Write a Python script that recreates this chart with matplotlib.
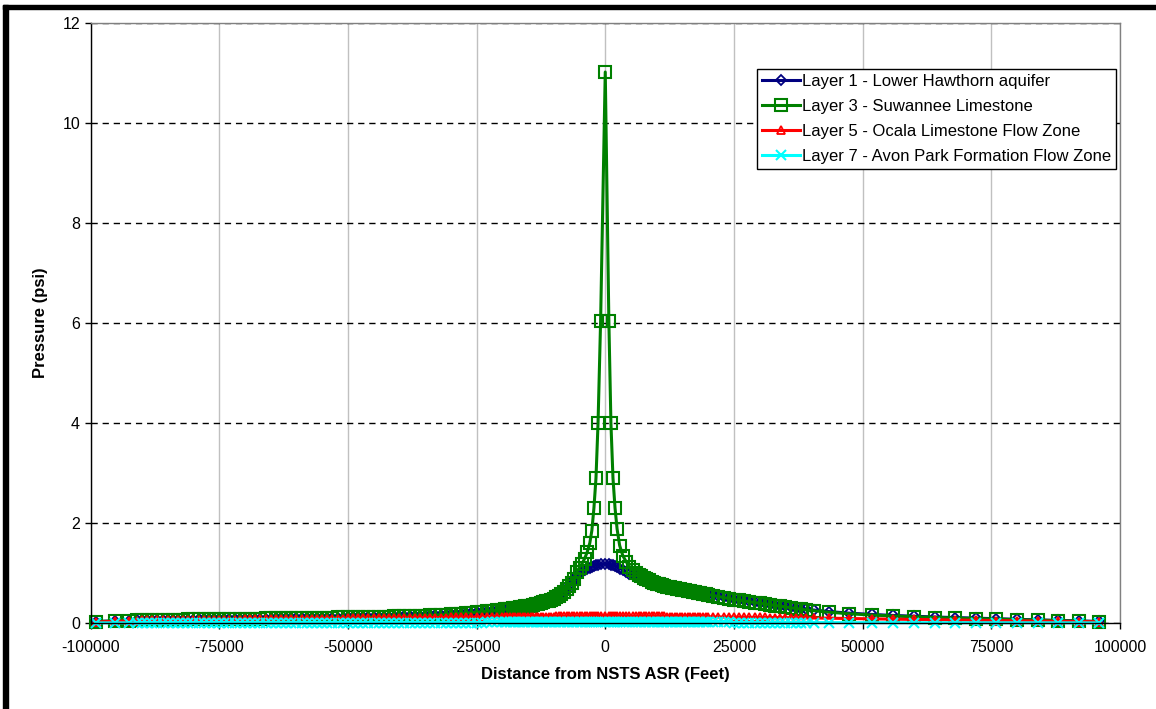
import matplotlib
matplotlib.use("Agg")
import matplotlib.pyplot as plt
from matplotlib.patches import Rectangle

plt.rcParams['font.family'] = ['Liberation Sans', 'DejaVu Sans']

# distance from the well (ft), model cell centres
dist_ft = [
    -99000, -95300, -92600,
    -91000, -90000, -89000, -88000, -87000, -86000, -85000, -84000, -83000, -82000,
    -81000, -80000, -79000, -78000, -77000, -76000, -75000, -74000, -73000, -72000,
    -71000, -70000, -69000, -68000, -67000, -66000, -65000, -64000, -63000, -62000,
    -61000, -60000, -59000, -58000, -57000, -56000, -55000, -54000, -53000, -52000,
    -51000, -50000, -49000, -48000, -47000, -46000, -45000, -44000, -43000, -42000,
    -41000, -40000, -39000, -38000, -37000, -36000,
    -35000, -34000, -33000, -32000, -31000, -30000, -29000, -28000, -27000, -26000,
    -25000, -24000, -23000, -22000, -21000,
    -20000, -19500, -19000, -18500, -18000, -17500, -17000, -16500, -16000, -15500,
    -15000, -14500, -14000, -13500, -13000, -12500, -12000, -11500, -11000, -10500,
    -10000, -9500, -9000, -8500, -8000, -7500, -7000, -6500, -6000,
    -5500, -5000, -4500, -4000, -3500, -3000, -2600, -2200, -1800, -1400, -900,
    0,
    700, 1100, 1500, 1900, 2300, 2800, 3400, 4100, 4700, 5300, 6000,
    6500, 7000, 7500, 8000, 8500, 9000, 9500, 10000, 10500, 11000, 11500, 12000,
    12500, 13000, 13500, 14000, 14500, 15000, 15500, 16000, 16500, 17000, 17500,
    18000, 18500, 19000, 19500, 20000,
    21000, 22000, 23000, 24000, 25000, 26000, 27000, 28000, 29000, 30000,
    31000, 32000, 33000, 34000, 35000, 36000, 37000, 38000, 39000,
    40600, 43500, 47400, 51800, 55900, 60000, 64000, 68000, 72000, 76000, 80000,
    84000, 88000, 92000, 96000,
]

layer1 = [
    0.030, 0.040, 0.048,
    0.055, 0.057, 0.058, 0.059, 0.061, 0.062, 0.063, 0.064, 0.066, 0.067,
    0.068, 0.069, 0.071, 0.072, 0.073, 0.074, 0.076, 0.077, 0.078, 0.080,
    0.081, 0.082, 0.084, 0.085, 0.086, 0.088, 0.089, 0.091, 0.092, 0.093,
    0.095, 0.096, 0.098, 0.099, 0.101, 0.102, 0.104, 0.105, 0.107, 0.108,
    0.110, 0.112, 0.113, 0.115, 0.117, 0.119, 0.121, 0.123, 0.125, 0.127,
    0.129, 0.131, 0.133, 0.135, 0.138, 0.140,
    0.147, 0.151, 0.156, 0.161, 0.167, 0.173, 0.180, 0.187, 0.195, 0.203,
    0.212, 0.222, 0.232, 0.242, 0.253,
    0.264, 0.270, 0.276, 0.282, 0.289, 0.296, 0.303, 0.311, 0.319, 0.328,
    0.337, 0.347, 0.357, 0.369, 0.382, 0.396, 0.412, 0.429, 0.447, 0.466,
    0.487, 0.514, 0.545, 0.583, 0.625, 0.675, 0.735, 0.800, 0.875,
    0.96, 1.00, 1.03, 1.06, 1.09, 1.11, 1.13, 1.15, 1.16, 1.17, 1.18,
    1.19,
    1.18, 1.17, 1.16, 1.14, 1.12, 1.09, 1.06, 1.02, 0.99, 0.96, 0.94,
    0.93, 0.92, 0.905, 0.89, 0.867, 0.845, 0.825, 0.805, 0.79, 0.775, 0.76, 0.745,
    0.735, 0.725, 0.715, 0.705, 0.695, 0.685, 0.675, 0.665, 0.655, 0.645, 0.635,
    0.625, 0.615, 0.605, 0.595, 0.585,
    0.565, 0.545, 0.525, 0.505, 0.485, 0.47, 0.455, 0.44, 0.425, 0.41,
    0.395, 0.38, 0.365, 0.35, 0.335, 0.32, 0.305, 0.29, 0.276,
    0.258, 0.228, 0.197, 0.171, 0.151, 0.135, 0.12, 0.108, 0.096, 0.085, 0.073,
    0.062, 0.052, 0.041, 0.031,
]

layer3 = [
    0.030, 0.040, 0.050,
    0.058, 0.060, 0.061, 0.062, 0.064, 0.065, 0.066, 0.067, 0.069, 0.070,
    0.071, 0.072, 0.074, 0.075, 0.076, 0.077, 0.079, 0.080, 0.081, 0.083,
    0.084, 0.085, 0.087, 0.088, 0.089, 0.091, 0.092, 0.094, 0.095, 0.096,
    0.098, 0.099, 0.101, 0.102, 0.104, 0.105, 0.107, 0.108, 0.110, 0.111,
    0.113, 0.115, 0.116, 0.118, 0.120, 0.122, 0.124, 0.126, 0.128, 0.130,
    0.132, 0.134, 0.136, 0.138, 0.141, 0.143,
    0.150, 0.154, 0.159, 0.164, 0.170, 0.176, 0.183, 0.190, 0.198, 0.206,
    0.215, 0.225, 0.235, 0.245, 0.256,
    0.267, 0.273, 0.279, 0.285, 0.292, 0.299, 0.306, 0.314, 0.322, 0.331,
    0.340, 0.350, 0.360, 0.372, 0.385, 0.400, 0.415, 0.432, 0.450, 0.470,
    0.490, 0.518, 0.550, 0.588, 0.630, 0.680, 0.740, 0.805, 0.880,
    1.03, 1.11, 1.19, 1.29, 1.42, 1.60, 1.85, 2.30, 2.90, 4.00, 6.05,
    11.02,
    6.05, 4.00, 2.90, 2.30, 1.88, 1.55, 1.35, 1.22, 1.13, 1.06, 1.00,
    0.97, 0.94, 0.91, 0.88, 0.855, 0.83, 0.81, 0.79, 0.775, 0.76, 0.745, 0.73,
    0.72, 0.71, 0.70, 0.69, 0.68, 0.67, 0.66, 0.65, 0.64, 0.63, 0.62,
    0.61, 0.60, 0.59, 0.58, 0.57,
    0.55, 0.53, 0.51, 0.49, 0.47, 0.455, 0.44, 0.425, 0.41, 0.395,
    0.38, 0.365, 0.35, 0.335, 0.32, 0.305, 0.29, 0.276, 0.262,
    0.245, 0.215, 0.185, 0.16, 0.14, 0.125, 0.11, 0.10, 0.088, 0.077, 0.066,
    0.056, 0.046, 0.036, 0.026,
]

layer5 = [
    0.020, 0.035, 0.045,
    0.050, 0.051, 0.052, 0.053, 0.054, 0.055, 0.056, 0.057, 0.058, 0.059,
    0.060, 0.061, 0.062, 0.063, 0.064, 0.065, 0.066, 0.067, 0.068, 0.069,
    0.070, 0.071, 0.072, 0.073, 0.074, 0.075, 0.076, 0.077, 0.078, 0.079,
    0.080, 0.081, 0.082, 0.083, 0.084, 0.085, 0.086, 0.087, 0.088, 0.089,
    0.090, 0.091, 0.092, 0.093, 0.094, 0.095, 0.096, 0.097, 0.098, 0.099,
    0.100, 0.101, 0.102, 0.103, 0.104, 0.105,
    0.106, 0.107, 0.108, 0.109, 0.110, 0.111, 0.112, 0.113, 0.114, 0.115,
    0.116, 0.117, 0.118, 0.119, 0.119,
    0.120, 0.121, 0.121, 0.122, 0.122, 0.123, 0.123, 0.124, 0.124, 0.125,
    0.125, 0.126, 0.126, 0.127, 0.127, 0.128, 0.128, 0.129, 0.129, 0.130,
    0.130, 0.131, 0.131, 0.132, 0.132, 0.133, 0.133, 0.134, 0.135,
    0.136, 0.137, 0.138, 0.139, 0.140, 0.141, 0.142, 0.143, 0.144, 0.145, 0.146,
    0.147,
    0.146, 0.145, 0.144, 0.143, 0.142, 0.141, 0.140, 0.139, 0.138, 0.137, 0.136,
    0.136, 0.135, 0.135, 0.134, 0.134, 0.133, 0.133, 0.132, 0.132, 0.131, 0.131, 0.130,
    0.130, 0.129, 0.129, 0.128, 0.128, 0.127, 0.127, 0.126, 0.126, 0.125, 0.125,
    0.124, 0.124, 0.123, 0.123, 0.122,
    0.121, 0.120, 0.119, 0.118, 0.117, 0.116, 0.115, 0.114, 0.113, 0.112,
    0.111, 0.110, 0.109, 0.108, 0.107, 0.106, 0.105, 0.104, 0.103,
    0.100, 0.096, 0.090, 0.083, 0.077, 0.071, 0.065, 0.059, 0.054, 0.049, 0.044,
    0.039, 0.034, 0.029, 0.025,
]

layer7 = [
    0.002, 0.003, 0.004,
    0.004, 0.004, 0.004, 0.004, 0.004, 0.004, 0.004, 0.004, 0.005, 0.005,
    0.005, 0.005, 0.005, 0.005, 0.005, 0.005, 0.005, 0.005, 0.005, 0.005,
    0.005, 0.005, 0.005, 0.005, 0.006, 0.006, 0.006, 0.006, 0.006, 0.006,
    0.006, 0.006, 0.006, 0.006, 0.006, 0.006, 0.006, 0.006, 0.007, 0.007,
    0.007, 0.007, 0.007, 0.007, 0.007, 0.007, 0.007, 0.007, 0.007, 0.007,
    0.008, 0.008, 0.008, 0.008, 0.008, 0.008,
    0.008, 0.008, 0.009, 0.009, 0.009, 0.009, 0.009, 0.010, 0.010, 0.010,
    0.010, 0.010, 0.011, 0.011, 0.011,
    0.011, 0.011, 0.012, 0.012, 0.012, 0.012, 0.012, 0.012, 0.012, 0.013,
    0.013, 0.013, 0.013, 0.013, 0.013, 0.014, 0.014, 0.014, 0.014, 0.014,
    0.014, 0.015, 0.015, 0.015, 0.015, 0.016, 0.016, 0.016, 0.016,
    0.017, 0.017, 0.018, 0.018, 0.018, 0.019, 0.019, 0.019, 0.020, 0.020, 0.020,
    0.021,
    0.020, 0.020, 0.020, 0.019, 0.019, 0.019, 0.018, 0.018, 0.018, 0.017, 0.017,
    0.017, 0.016, 0.016, 0.016, 0.016, 0.015, 0.015, 0.015, 0.015, 0.014, 0.014, 0.014,
    0.014, 0.014, 0.014, 0.013, 0.013, 0.013, 0.013, 0.013, 0.013, 0.012, 0.012,
    0.012, 0.012, 0.012, 0.012, 0.012,
    0.011, 0.011, 0.011, 0.011, 0.010, 0.010, 0.010, 0.010, 0.010, 0.009,
    0.009, 0.009, 0.009, 0.009, 0.008, 0.008, 0.008, 0.008, 0.008,
    0.008, 0.007, 0.007, 0.006, 0.006, 0.006, 0.005, 0.005, 0.005, 0.004, 0.004,
    0.004, 0.003, 0.003, 0.002,
]

series_names = ['Layer 1 - Lower Hawthorn aquifer', 'Layer 3 - Suwannee Limestone',
                'Layer 5 - Ocala Limestone Flow Zone', 'Layer 7 - Avon Park Formation Flow Zone']

x_ticks = [-100000, -75000, -50000, -25000, 0, 25000, 50000, 75000, 100000]
y_ticks = [0, 2, 4, 6, 8, 10, 12]

fig = plt.figure(figsize=(11.56, 7.09), dpi=100)
ax = fig.add_axes([90.5 / 1156, 1 - 623 / 709, 1029.5 / 1156, 600 / 709])

# thick black frame on the left and top of the picture
fig.add_artist(Rectangle((3 / 1156, 0), 5 / 1156, 1 - 5 / 709, transform=fig.transFigure,
                         color='black', zorder=10))
fig.add_artist(Rectangle((3 / 1156, 1 - 9 / 709), 1, 4 / 709, transform=fig.transFigure,
                         color='black', zorder=10))

ax.plot(dist_ft, layer1, color='#000080', lw=2.2, marker='D', ms=5.5, mfc='none', mew=1.3,
        label=series_names[0], clip_on=False)
ax.plot(dist_ft, layer3, color='#008000', lw=2.2, marker='s', ms=8, mfc='none', mew=1.5,
        label=series_names[1], clip_on=False)
ax.plot(dist_ft, layer5, color='#ff0000', lw=2.2, marker='^', ms=6, mfc='none', mew=1.3,
        label=series_names[2], clip_on=False)
ax.plot(dist_ft, layer7, color='#00ffff', lw=2.2, marker='x', ms=6.5, mew=1.5,
        label=series_names[3], clip_on=False)

ax.set_xlim(-100000, 100000)
ax.set_ylim(0, 12)
ax.set_xticks(x_ticks)
ax.set_xticklabels([str(t) for t in x_ticks])
ax.set_yticks(y_ticks)
ax.set_yticklabels([str(t) for t in y_ticks])
ax.tick_params(axis='both', labelsize=11.5, direction='out', length=4, width=1, color='black')
ax.tick_params(axis='x', pad=8)

ax.set_axisbelow(True)
ax.xaxis.grid(True, color='#c0c0c0', lw=1, ls='-')
ax.yaxis.grid(True, color='black', lw=1, ls=(0, (4.5, 3.5)))

ax.spines['left'].set_color('black')
ax.spines['bottom'].set_color('black')
ax.spines['top'].set_color('#808080')
ax.spines['right'].set_color('#808080')
for s in ax.spines.values():
    s.set_linewidth(1)

ax.set_xlabel('Distance from NSTS ASR (Feet)', fontsize=12, fontweight='bold', labelpad=9)
ax.set_ylabel('Pressure (psi)', fontsize=12, fontweight='bold', labelpad=10)

leg = ax.legend(loc='upper left', bbox_to_anchor=(0.647, 0.923), borderaxespad=0,
                fontsize=12, handlelength=2.3, handletextpad=0.1, labelspacing=0.6,
                borderpad=0.3, fancybox=False, framealpha=1)
leg.get_frame().set_edgecolor('black')
leg.get_frame().set_linewidth(1)

fig.savefig('out.png', dpi=100)
